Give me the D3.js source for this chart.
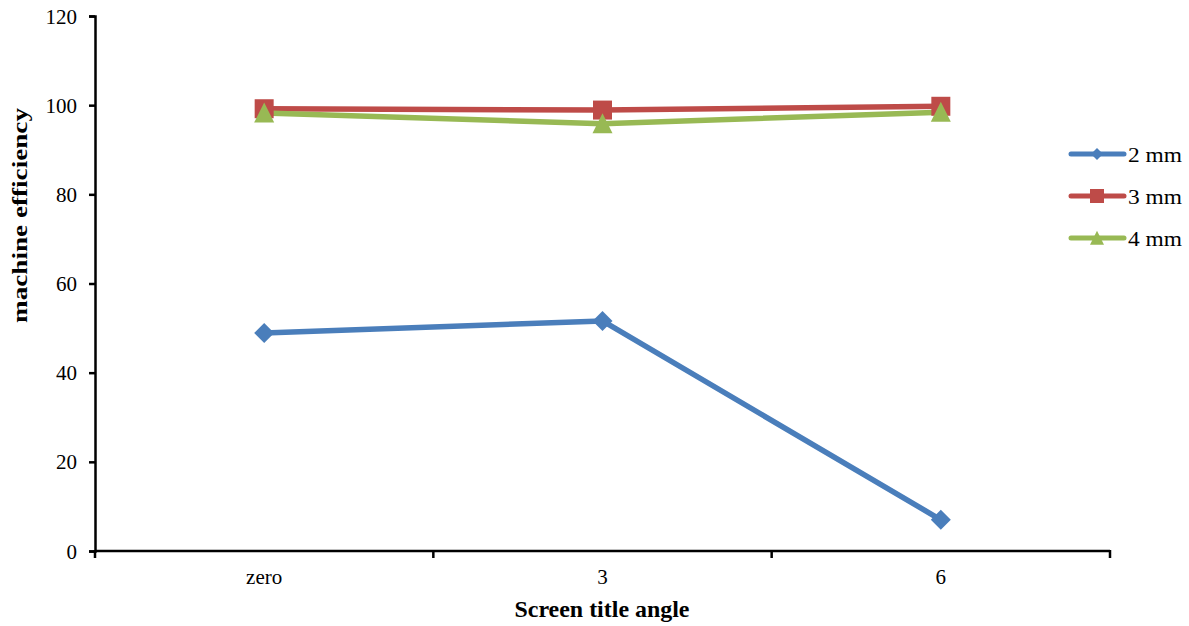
<!DOCTYPE html>
<html>
<head>
<meta charset="utf-8">
<script src="https://cdn.jsdelivr.net/npm/d3@7"></script>
<style>
  html, body { margin: 0; padding: 0; background: #fff; }
  svg text { font-family: "Liberation Serif", "Times New Roman", serif; fill: #000; }
</style>
</head>
<body>
<svg id="chart" width="1189" height="626"></svg>
<script>
// Screen tilt angle vs machine efficiency, one series per hole size
const categories = ["zero", "3", "6"];
const seriesNames = ["2 mm", "3 mm", "4 mm"];
const values2mm = [48.9, 51.6, 7.0];
const values3mm = [99.2, 98.9, 99.75];
const values4mm = [98.25, 95.85, 98.4];
const yTicks = [0, 20, 40, 60, 80, 100, 120];
const colors = ["#4a7ebb", "#be4b48", "#98b954"];

// Marker shapes: diamond = rotated square, square, triangle; size = half-width in px
const diamond = { draw(ctx, r) { ctx.moveTo(0, -r); ctx.lineTo(r, 0); ctx.lineTo(0, r); ctx.lineTo(-r, 0); ctx.closePath(); } };
const square = { draw(ctx, r) { ctx.rect(-r, -r, 2 * r, 2 * r); } };
const triangle = { draw(ctx, r) { ctx.moveTo(0, -1.05 * r); ctx.lineTo(r, 0.95 * r); ctx.lineTo(-r, 0.95 * r); ctx.closePath(); } };
const shapes = [diamond, square, triangle];
const plotSizes = [10, 9.5, 10];
const legendSizes = [6, 7, 7];

const series = [values2mm, values3mm, values4mm].map((v, i) => ({
  name: seriesNames[i], values: v, color: colors[i], shape: shapes[i],
  size: plotSizes[i], legendSize: legendSizes[i]
}));

const svg = d3.select("#chart");
const W = 1189, H = 626;
const margin = { left: 95, right: 79, top: 16, bottom: 75 };

const x = d3.scaleBand().domain(categories).range([margin.left, W - margin.right]);
const y = d3.scaleLinear().domain([0, 120]).range([H - margin.bottom, margin.top]);

// Y axis
const yAxis = svg.append("g")
  .attr("transform", `translate(${margin.left},0)`)
  .call(d3.axisLeft(y).tickValues(yTicks).tickSize(6).tickPadding(12));
yAxis.select(".domain").attr("stroke", "#000").attr("stroke-width", 2.5);
yAxis.selectAll(".tick line").attr("stroke", "#000").attr("stroke-width", 2.5);
yAxis.selectAll(".tick text")
  .attr("dy", "0.34em")
  .style("font-size", "21px")
  .style("font-family", "Liberation Serif");

// X axis with tick marks on category boundaries
const xAxisG = svg.append("g").attr("transform", `translate(0,${y(0)})`);
xAxisG.append("line")
  .attr("x1", margin.left).attr("x2", W - margin.right)
  .attr("stroke", "#000").attr("stroke-width", 2.5);
const bounds = categories.map(c => x(c)).concat([x(categories[categories.length - 1]) + x.bandwidth()]);
xAxisG.selectAll("line.tk").data(bounds).join("line")
  .attr("class", "tk")
  .attr("x1", d => d).attr("x2", d => d)
  .attr("y1", -1).attr("y2", 7)
  .attr("stroke", "#000").attr("stroke-width", 2.5);
xAxisG.selectAll("text.lbl").data(categories).join("text")
  .attr("class", "lbl")
  .attr("x", d => x(d) + x.bandwidth() / 2)
  .attr("y", 33)
  .attr("text-anchor", "middle")
  .style("font-size", "21px")
  .text(d => d);

// Axis titles
svg.append("text")
  .attr("x", 602)
  .attr("y", 617)
  .attr("text-anchor", "middle")
  .attr("textLength", 175)
  .attr("lengthAdjust", "spacingAndGlyphs")
  .style("font-size", "23px").style("font-weight", "bold")
  .text("Screen title angle");
svg.append("text")
  .attr("transform", `translate(27,215.5) rotate(-90)`)
  .attr("text-anchor", "middle")
  .attr("textLength", 215)
  .attr("lengthAdjust", "spacingAndGlyphs")
  .style("font-size", "20px").style("font-weight", "bold")
  .text("machine efficiency");

// Lines and markers
const cx = c => x(c) + x.bandwidth() / 2;
const line = d3.line().x((d, i) => cx(categories[i])).y(d => y(d));

series.forEach(s => {
  svg.append("path")
    .datum(s.values)
    .attr("d", line)
    .attr("fill", "none")
    .attr("stroke", s.color)
    .attr("stroke-width", 5.5)
    .attr("stroke-linejoin", "round")
    .attr("stroke-linecap", "round");
});
series.forEach(s => {
  svg.append("g").selectAll("path").data(s.values).join("path")
    .attr("transform", (d, i) => `translate(${cx(categories[i])},${y(d)})`)
    .attr("d", d3.symbol().type(s.shape).size(s.size))
    .attr("fill", s.color);
});

// Legend
const legend = svg.append("g");
series.forEach((s, i) => {
  const ly = 154 + i * 42;
  legend.append("line")
    .attr("x1", 1071).attr("x2", 1124).attr("y1", ly).attr("y2", ly)
    .attr("stroke", s.color).attr("stroke-width", 5).attr("stroke-linecap", "round");
  legend.append("path")
    .attr("transform", `translate(1097,${ly})`)
    .attr("d", d3.symbol().type(s.shape).size(s.legendSize))
    .attr("fill", s.color);
  legend.append("text")
    .attr("x", 1128).attr("y", ly + 8)
    .attr("textLength", 54)
    .attr("lengthAdjust", "spacingAndGlyphs")
    .style("font-size", "20px")
    .text(s.name);
});
</script>
</body>
</html>
